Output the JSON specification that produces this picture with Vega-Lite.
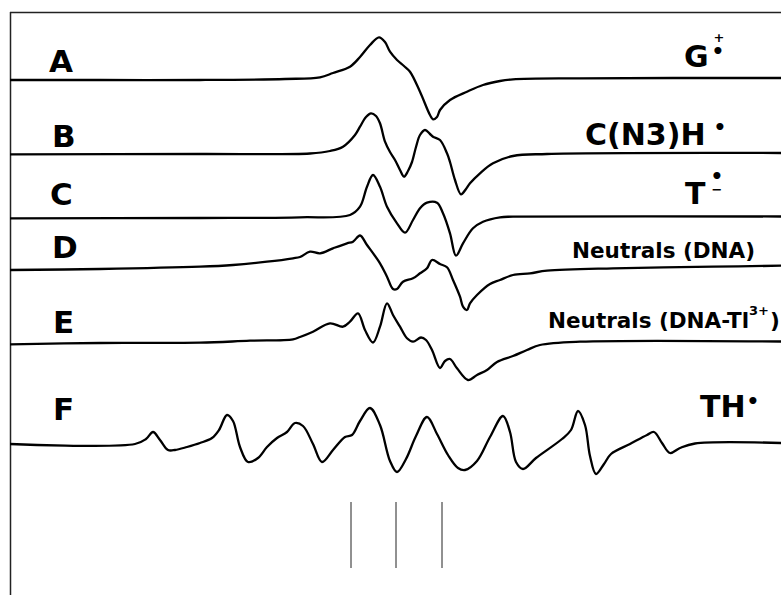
{
  "$schema": "https://vega.github.io/schema/vega-lite/v6.json",
  "width": 781,
  "height": 595,
  "padding": 0,
  "autosize": {"type": "none"},
  "background": "white",
  "config": {"view": {"stroke": null}},
  "datasets": {
    "curves": [
      {"s":"A","x":10,"y":80},{"s":"A","x":100,"y":80},{"s":"A","x":200,"y":80},{"s":"A","x":285,"y":79},{"s":"A","x":320,"y":77.3},{"s":"A","x":333,"y":73},{"s":"A","x":350,"y":66.7},{"s":"A","x":360,"y":57},{"s":"A","x":370,"y":45},{"s":"A","x":379,"y":37.3},{"s":"A","x":385,"y":42},{"s":"A","x":390,"y":51.7},{"s":"A","x":397,"y":60},{"s":"A","x":404,"y":66},{"s":"A","x":410,"y":71.7},{"s":"A","x":420,"y":91.7},{"s":"A","x":430,"y":115},{"s":"A","x":433,"y":119.3},{"s":"A","x":437,"y":117},{"s":"A","x":440,"y":110},{"s":"A","x":450,"y":100},{"s":"A","x":467,"y":91.7},{"s":"A","x":483,"y":85},{"s":"A","x":500,"y":81},{"s":"A","x":513,"y":79.3},{"s":"A","x":580,"y":78.3},{"s":"A","x":781,"y":78},
      {"s":"B","x":10,"y":154.3},{"s":"B","x":200,"y":154},{"s":"B","x":310,"y":153.5},{"s":"B","x":330,"y":151},{"s":"B","x":343,"y":146.7},{"s":"B","x":355,"y":135},{"s":"B","x":360,"y":126.7},{"s":"B","x":366,"y":117},{"s":"B","x":371,"y":113.3},{"s":"B","x":376,"y":116},{"s":"B","x":380,"y":123.3},{"s":"B","x":385,"y":141.7},{"s":"B","x":390,"y":152},{"s":"B","x":395,"y":160},{"s":"B","x":400,"y":170},{"s":"B","x":404,"y":176.7},{"s":"B","x":408,"y":171},{"s":"B","x":412,"y":162},{"s":"B","x":416,"y":147},{"s":"B","x":420,"y":135},{"s":"B","x":425,"y":130},{"s":"B","x":430,"y":134},{"s":"B","x":433,"y":136.7},{"s":"B","x":440,"y":140},{"s":"B","x":447,"y":153.3},{"s":"B","x":450,"y":162},{"s":"B","x":455,"y":180},{"s":"B","x":461,"y":194.3},{"s":"B","x":466,"y":189},{"s":"B","x":470,"y":183.3},{"s":"B","x":480,"y":173.3},{"s":"B","x":493,"y":163.3},{"s":"B","x":513,"y":156},{"s":"B","x":547,"y":154},{"s":"B","x":781,"y":153},
      {"s":"C","x":10,"y":218.3},{"s":"C","x":200,"y":218},{"s":"C","x":300,"y":217.3},{"s":"C","x":350,"y":215},{"s":"C","x":360,"y":206.7},{"s":"C","x":367,"y":186.7},{"s":"C","x":373,"y":175},{"s":"C","x":380,"y":186.7},{"s":"C","x":387,"y":206.7},{"s":"C","x":397,"y":223.3},{"s":"C","x":405,"y":232.7},{"s":"C","x":413,"y":220},{"s":"C","x":420,"y":208.3},{"s":"C","x":427,"y":202.7},{"s":"C","x":437,"y":202.7},{"s":"C","x":443,"y":213.3},{"s":"C","x":450,"y":233.3},{"s":"C","x":456,"y":255.7},{"s":"C","x":463,"y":243.3},{"s":"C","x":473,"y":228.3},{"s":"C","x":483,"y":221.7},{"s":"C","x":500,"y":217.3},{"s":"C","x":513,"y":216.7},{"s":"C","x":781,"y":216.5},
      {"s":"D","x":10,"y":270},{"s":"D","x":100,"y":269},{"s":"D","x":200,"y":266.7},{"s":"D","x":233,"y":265},{"s":"D","x":267,"y":261.7},{"s":"D","x":293,"y":258.3},{"s":"D","x":300,"y":257},{"s":"D","x":310,"y":251.7},{"s":"D","x":320,"y":253.3},{"s":"D","x":333,"y":248.3},{"s":"D","x":347,"y":243.3},{"s":"D","x":353,"y":241.7},{"s":"D","x":360,"y":235.5},{"s":"D","x":367,"y":245},{"s":"D","x":380,"y":263.3},{"s":"D","x":387,"y":276.7},{"s":"D","x":393,"y":289},{"s":"D","x":397,"y":289},{"s":"D","x":403,"y":281.7},{"s":"D","x":413,"y":278.3},{"s":"D","x":420,"y":273.3},{"s":"D","x":427,"y":268.3},{"s":"D","x":432,"y":260},{"s":"D","x":440,"y":264},{"s":"D","x":447,"y":267.3},{"s":"D","x":453,"y":280},{"s":"D","x":460,"y":296.7},{"s":"D","x":463,"y":306.7},{"s":"D","x":467,"y":310},{"s":"D","x":470,"y":303.3},{"s":"D","x":477,"y":295},{"s":"D","x":490,"y":284},{"s":"D","x":500,"y":280},{"s":"D","x":513,"y":275},{"s":"D","x":530,"y":273.3},{"s":"D","x":547,"y":270.7},{"s":"D","x":613,"y":268.3},{"s":"D","x":713,"y":266.7},{"s":"D","x":781,"y":265.7},
      {"s":"E","x":10,"y":344.3},{"s":"E","x":100,"y":343},{"s":"E","x":200,"y":342.7},{"s":"E","x":250,"y":340.7},{"s":"E","x":293,"y":339.3},{"s":"E","x":300,"y":337},{"s":"E","x":313,"y":331.7},{"s":"E","x":330,"y":323.3},{"s":"E","x":343,"y":326.7},{"s":"E","x":350,"y":321.7},{"s":"E","x":358,"y":313.3},{"s":"E","x":365,"y":330},{"s":"E","x":373,"y":342.5},{"s":"E","x":380,"y":326.7},{"s":"E","x":387,"y":303.3},{"s":"E","x":393,"y":315},{"s":"E","x":400,"y":326.7},{"s":"E","x":407,"y":338.3},{"s":"E","x":413,"y":341.7},{"s":"E","x":421,"y":337.5},{"s":"E","x":426,"y":340},{"s":"E","x":432,"y":350},{"s":"E","x":440,"y":368},{"s":"E","x":445,"y":361},{"s":"E","x":450,"y":359},{"s":"E","x":457,"y":368.3},{"s":"E","x":468,"y":380},{"s":"E","x":477,"y":375},{"s":"E","x":487,"y":370},{"s":"E","x":497,"y":362},{"s":"E","x":513,"y":356},{"s":"E","x":527,"y":350},{"s":"E","x":540,"y":345},{"s":"E","x":580,"y":341.7},{"s":"E","x":781,"y":341.5},
      {"s":"F","x":10,"y":444},{"s":"F","x":135,"y":444},{"s":"F","x":146,"y":439},{"s":"F","x":153,"y":432},{"s":"F","x":160,"y":440},{"s":"F","x":168,"y":450},{"s":"F","x":175,"y":450},{"s":"F","x":187,"y":447},{"s":"F","x":200,"y":443},{"s":"F","x":212,"y":438},{"s":"F","x":219,"y":430},{"s":"F","x":227,"y":415},{"s":"F","x":233,"y":421},{"s":"F","x":240,"y":447},{"s":"F","x":248,"y":462},{"s":"F","x":258,"y":458},{"s":"F","x":267,"y":447},{"s":"F","x":277,"y":438},{"s":"F","x":287,"y":432},{"s":"F","x":295,"y":423},{"s":"F","x":303,"y":426},{"s":"F","x":313,"y":444},{"s":"F","x":322,"y":462},{"s":"F","x":333,"y":450},{"s":"F","x":345,"y":437},{"s":"F","x":352,"y":435},{"s":"F","x":360,"y":421},{"s":"F","x":370,"y":408},{"s":"F","x":380,"y":425},{"s":"F","x":390,"y":461},{"s":"F","x":397,"y":472},{"s":"F","x":406,"y":459},{"s":"F","x":416,"y":436},{"s":"F","x":427,"y":417},{"s":"F","x":437,"y":434},{"s":"F","x":448,"y":455},{"s":"F","x":458,"y":468},{"s":"F","x":465,"y":470},{"s":"F","x":477,"y":461},{"s":"F","x":490,"y":437},{"s":"F","x":503,"y":416},{"s":"F","x":510,"y":432},{"s":"F","x":516,"y":462},{"s":"F","x":523,"y":469},{"s":"F","x":536,"y":458},{"s":"F","x":562,"y":439},{"s":"F","x":571,"y":430},{"s":"F","x":578,"y":411},{"s":"F","x":585,"y":425},{"s":"F","x":590,"y":456},{"s":"F","x":596,"y":474},{"s":"F","x":604,"y":464},{"s":"F","x":611,"y":454},{"s":"F","x":630,"y":444},{"s":"F","x":647,"y":435},{"s":"F","x":654,"y":432},{"s":"F","x":662,"y":443},{"s":"F","x":670,"y":453},{"s":"F","x":680,"y":448},{"s":"F","x":695,"y":443.5},{"s":"F","x":781,"y":443}
    ],
    "labels": [
      {"kind":"letter","t":"A","x":49,"y":72},
      {"kind":"letter","t":"B","x":52,"y":147},
      {"kind":"letter","t":"C","x":50,"y":205},
      {"kind":"letter","t":"D","x":52,"y":258},
      {"kind":"letter","t":"E","x":53,"y":333},
      {"kind":"letter","t":"F","x":53,"y":420},
      {"kind":"species","t":"G","x":684,"y":67},
      {"kind":"species","t":"C(N3)H","x":585,"y":145},
      {"kind":"species","t":"T","x":685,"y":204},
      {"kind":"species","t":"TH","x":700,"y":417},
      {"kind":"note","t":"Neutrals (DNA)","x":572,"y":258},
      {"kind":"note","t":"Neutrals (DNA-Tl","x":548,"y":328},
      {"kind":"note","t":")","x":770,"y":328},
      {"kind":"sup","t":"+","x":719,"y":38},
      {"kind":"sup","t":"−","x":717,"y":190},
      {"kind":"sup","t":"3+","x":759,"y":311},
      {"kind":"dot","t":"•","x":718,"y":52},
      {"kind":"dot","t":"•","x":720,"y":128},
      {"kind":"dot","t":"•","x":717,"y":177},
      {"kind":"dot","t":"•","x":753,"y":402}
    ],
    "sticks": [
      {"x":351,"y":502,"y2":568},
      {"x":396,"y":502,"y2":568},
      {"x":442,"y":502,"y2":568}
    ],
    "frame": [
      {"x":10.5,"y":12,"x2":10.5,"y2":595},
      {"x":10,"y":12.5,"x2":781,"y2":12.5}
    ]
  },
  "layer": [
    {
      "data": {"name": "frame"},
      "mark": {"type": "rule", "color": "#222", "strokeWidth": 1.5},
      "encoding": {
        "x": {"field": "x", "type": "quantitative", "scale": {"domain": [0, 781], "nice": false, "zero": false}, "axis": null},
        "y": {"field": "y", "type": "quantitative", "scale": {"domain": [0, 595], "nice": false, "zero": false, "reverse": true}, "axis": null},
        "x2": {"field": "x2"},
        "y2": {"field": "y2"}
      }
    },
    {
      "data": {"name": "sticks"},
      "mark": {"type": "rule", "color": "#222", "strokeWidth": 1},
      "encoding": {
        "x": {"field": "x", "type": "quantitative", "scale": {"domain": [0, 781], "nice": false, "zero": false}, "axis": null},
        "y": {"field": "y", "type": "quantitative", "scale": {"domain": [0, 595], "nice": false, "zero": false, "reverse": true}, "axis": null},
        "y2": {"field": "y2"}
      }
    },
    {
      "data": {"name": "curves"},
      "mark": {"type": "line", "color": "black", "strokeWidth": 2.3, "interpolate": "catmull-rom"},
      "encoding": {
        "x": {"field": "x", "type": "quantitative", "scale": {"domain": [0, 781], "nice": false, "zero": false}, "axis": null},
        "y": {"field": "y", "type": "quantitative", "scale": {"domain": [0, 595], "nice": false, "zero": false, "reverse": true}, "axis": null},
        "detail": {"field": "s"}
      }
    },
    {
      "data": {"name": "labels"},
      "transform": [{"filter": "datum.kind === 'letter'"}],
      "mark": {"type": "text", "font": "DejaVu Sans", "fontWeight": "bold", "fontSize": 31, "align": "left", "baseline": "alphabetic", "color": "black"},
      "encoding": {
        "x": {"field": "x", "type": "quantitative", "scale": {"domain": [0, 781], "nice": false, "zero": false}, "axis": null},
        "y": {"field": "y", "type": "quantitative", "scale": {"domain": [0, 595], "nice": false, "zero": false, "reverse": true}, "axis": null},
        "text": {"field": "t"}
      }
    },
    {
      "data": {"name": "labels"},
      "transform": [{"filter": "datum.kind === 'species'"}],
      "mark": {"type": "text", "font": "DejaVu Sans", "fontWeight": "bold", "fontSize": 30, "align": "left", "baseline": "alphabetic", "color": "black"},
      "encoding": {
        "x": {"field": "x", "type": "quantitative", "scale": {"domain": [0, 781], "nice": false, "zero": false}, "axis": null},
        "y": {"field": "y", "type": "quantitative", "scale": {"domain": [0, 595], "nice": false, "zero": false, "reverse": true}, "axis": null},
        "text": {"field": "t"}
      }
    },
    {
      "data": {"name": "labels"},
      "transform": [{"filter": "datum.kind === 'note'"}],
      "mark": {"type": "text", "font": "DejaVu Sans", "fontWeight": "bold", "fontSize": 21.5, "align": "left", "baseline": "alphabetic", "color": "black"},
      "encoding": {
        "x": {"field": "x", "type": "quantitative", "scale": {"domain": [0, 781], "nice": false, "zero": false}, "axis": null},
        "y": {"field": "y", "type": "quantitative", "scale": {"domain": [0, 595], "nice": false, "zero": false, "reverse": true}, "axis": null},
        "text": {"field": "t"}
      }
    },
    {
      "data": {"name": "labels"},
      "transform": [{"filter": "datum.kind === 'sup'"}],
      "mark": {"type": "text", "font": "DejaVu Sans", "fontWeight": "bold", "fontSize": 13, "align": "center", "baseline": "middle", "color": "black"},
      "encoding": {
        "x": {"field": "x", "type": "quantitative", "scale": {"domain": [0, 781], "nice": false, "zero": false}, "axis": null},
        "y": {"field": "y", "type": "quantitative", "scale": {"domain": [0, 595], "nice": false, "zero": false, "reverse": true}, "axis": null},
        "text": {"field": "t"}
      }
    },
    {
      "data": {"name": "labels"},
      "transform": [{"filter": "datum.kind === 'dot'"}],
      "mark": {"type": "text", "font": "DejaVu Sans", "fontWeight": "bold", "fontSize": 20, "align": "center", "baseline": "middle", "color": "black"},
      "encoding": {
        "x": {"field": "x", "type": "quantitative", "scale": {"domain": [0, 781], "nice": false, "zero": false}, "axis": null},
        "y": {"field": "y", "type": "quantitative", "scale": {"domain": [0, 595], "nice": false, "zero": false, "reverse": true}, "axis": null},
        "text": {"field": "t"}
      }
    }
  ]
}
